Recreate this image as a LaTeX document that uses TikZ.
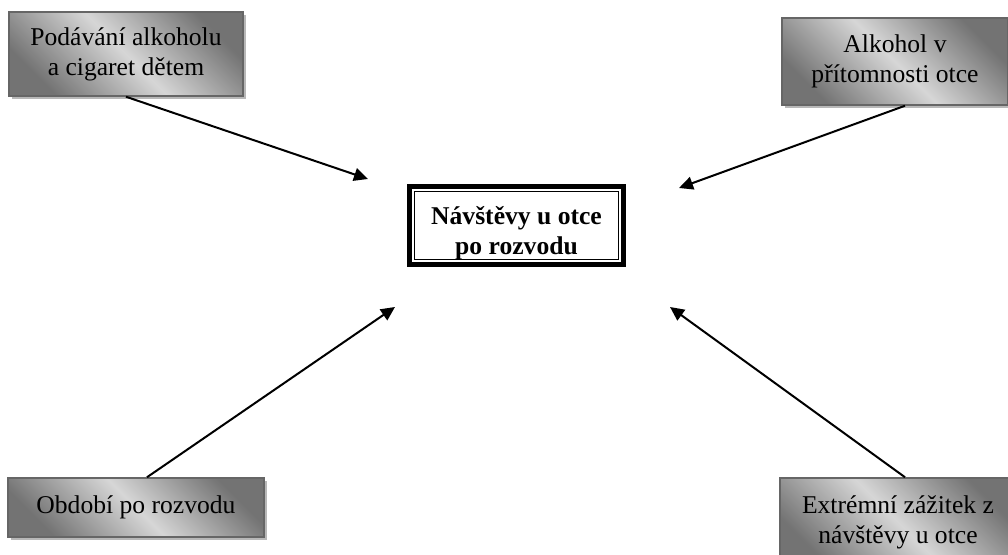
\documentclass[tikz,border=0pt]{standalone}
\usepackage{fontspec}
\setmainfont{Liberation Serif}
\usetikzlibrary{arrows.meta,shadows}
\newcommand{\px}{0.5pt}

\begin{document}
\begin{tikzpicture}[x=\px, y=-\px,
    every node/.style={font=\fontsize{12.8}{15}\selectfont},
    box/.style={draw=black!60, line width=0.75pt, rectangle, align=center, inner sep=0pt,
        top color=black!55, bottom color=black!55, middle color=black!16, shading angle=-45,
        drop shadow={shadow xshift=1.6pt, shadow yshift=-1.6pt, fill=black!28, opacity=1}},
    hub/.style={draw, line width=2.5pt, rectangle, inner sep=0pt, outer sep=0pt,
        minimum width=107pt, minimum height=39pt},
    hubtext/.style={align=center, inner sep=0pt, font=\fontsize{12.8}{15}\selectfont\bfseries},
    link/.style={line width=1pt, -{Triangle[length=7pt,width=6.5pt]}}]
    \path[use as bounding box, clip] (0,0) rectangle (1008,555);

    % Middle
    \node[hub] (box-c) at (516.5,225.5) {};
    \draw[line width=0.75pt] ([shift={(2.6pt,-2.6pt)}]box-c.north west) rectangle ([shift={(-2.6pt,2.6pt)}]box-c.south east);
    \node[hubtext] (box-c-text) at ([yshift=-4pt]box-c.center) {Návštěvy u otce\\po rozvodu};

    % Top row
    \node[box, minimum width=117pt, minimum height=42pt] (box-1-1) at (126,54) {Podávání alkoholu\\a cigaret dětem};
    \node[box, minimum width=113pt, minimum height=43.5pt] (box-1-2) at (895,61.5) {Alkohol v\\přítomnosti otce};

    % Bottom row
    \node[box, minimum width=128pt, minimum height=29.5pt] (box-2-1) at (136,507.5) {Období po rozvodu};
    \node[box, minimum width=118pt, minimum height=44pt] (box-2-2) at (898,522) {Extrémní zážitek z\\návštěvy u otce};

    % Arrows
    \coordinate (tip-1-1) at (368,179);
    \coordinate (tip-1-2) at (679,188);
    \coordinate (tip-2-1) at (395,307);
    \coordinate (tip-2-2) at (670,307);
    \draw[link] (box-1-1.south) -- (tip-1-1);
    \draw[link] ([xshift=5pt]box-1-2.south) -- (tip-1-2);
    \draw[link] ([xshift=5.5pt]box-2-1.north) -- (tip-2-1);
    \draw[link] ([xshift=3.5pt]box-2-2.north) -- (tip-2-2);

\end{tikzpicture}
\end{document}
